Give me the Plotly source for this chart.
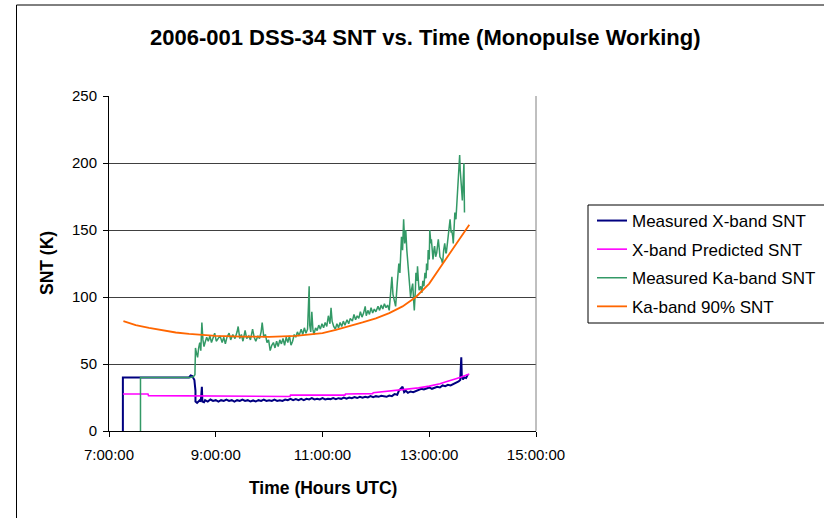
import plotly.graph_objects as go

# ---------------- data (time in decimal hours UTC) ----------------
xband_meas_t = [7.26, 7.26, 8.50, 8.53, 8.56, 8.58, 8.60, 8.62, 8.62, 8.65, 8.68, 8.70, 8.72, 8.74, 8.75, 8.78,
                8.80, 8.85, 8.90, 8.95, 9.00, 9.05, 9.10, 9.15, 9.20, 9.25, 9.30, 9.35, 9.40, 9.45, 9.50, 9.55,
                9.60, 9.65, 9.70, 9.75, 9.80, 9.85, 9.90, 9.95, 10.00, 10.05, 10.10, 10.15, 10.20, 10.25, 10.30,
                10.35, 10.40, 10.45, 10.50, 10.55, 10.60, 10.65, 10.70, 10.75, 10.80, 10.85, 10.90, 10.95, 11.00,
                11.05, 11.10, 11.15, 11.20, 11.25, 11.30, 11.35, 11.40, 11.45, 11.50, 11.55, 11.60, 11.65, 11.70,
                11.75, 11.80, 11.85, 11.90, 11.95, 12.00, 12.05, 12.10, 12.15, 12.20, 12.25, 12.30, 12.35, 12.40,
                12.43, 12.46, 12.50, 12.53, 12.56, 12.60, 12.65, 12.70, 12.75, 12.80, 12.85, 12.90, 12.95, 13.00,
                13.05, 13.10, 13.15, 13.20, 13.25, 13.30, 13.35, 13.40, 13.45, 13.50, 13.55, 13.58, 13.60, 13.61,
                13.63, 13.66, 13.69, 13.72]
xband_meas_v = [0, 40, 40, 41.5, 41, 39.5, 38, 30, 22, 21, 22.5, 23, 22, 33, 22, 21.5,
                23, 22, 23.5, 22.5, 23, 22, 23, 22.5, 23.5, 22.5, 23, 22, 23, 22.5, 23.5, 22.5,
                23, 22, 22.8, 22, 23, 22.5, 23.5, 22.5, 23, 22.5, 23.5, 22.5, 23, 22.5, 23.5,
                23, 24, 23, 23.8, 23, 24, 23, 24, 23.5, 24.5, 23.5, 24, 23.5, 24.5,
                23.5, 24, 23.8, 24.5, 23.8, 24.5, 24, 25, 24.2, 25, 24.5, 25.3, 24.6, 25.5,
                24.8, 25.5, 25, 26, 25.2, 26, 25.5, 26.2, 25.6, 25.5, 26.5, 26, 27.5, 27,
                30, 31.5, 33, 29, 30, 28.5, 29.5, 29, 30, 30.5, 31.5, 31, 32, 32.5,
                31.5, 32.5, 33, 32.5, 34, 33.5, 34.5, 34, 35, 35.5, 37, 38, 55, 41,
                38.5, 40, 39.5, 42]

xband_pred_t = [7.26, 7.73, 7.74, 8.62, 8.64, 10.39, 10.40, 11.42, 11.43, 11.94, 11.95, 12.2, 12.4, 12.6,
                12.8, 13.0, 13.1, 13.2, 13.3, 13.4, 13.5, 13.6, 13.7, 13.75]
xband_pred_v = [27.6, 27.6, 26.4, 26.2, 25.8, 25.8, 26.8, 26.8, 27.6, 27.9, 28.6, 29.5, 30.5, 31.5,
                32.2, 33.5, 34.3, 35.2, 36.5, 37.5, 39, 40.3, 41.7, 42.5]

ka_meas_t = [7.59, 7.59, 8.52, 8.58, 8.61, 8.62, 8.64, 8.66, 8.68, 8.70, 8.72, 8.74, 8.76, 8.78, 8.80, 8.83,
             8.86, 8.89, 8.92, 8.95, 8.98, 9.01, 9.04, 9.08, 9.12, 9.15, 9.18, 9.21, 9.25, 9.28, 9.32, 9.36,
             9.40, 9.42, 9.45, 9.48, 9.51, 9.55, 9.58, 9.62, 9.65, 9.69, 9.72, 9.75, 9.79, 9.82, 9.85, 9.87,
             9.90, 9.93, 9.96, 9.99, 10.02, 10.05, 10.08, 10.11, 10.14, 10.17, 10.20, 10.23, 10.26, 10.29,
             10.32, 10.35, 10.38, 10.41, 10.44, 10.47, 10.50, 10.53, 10.56, 10.60, 10.63, 10.66, 10.69, 10.72,
             10.75, 10.76, 10.78, 10.80, 10.82, 10.84, 10.87, 10.90, 10.93, 10.96, 10.99, 11.02, 11.05, 11.08,
             11.11, 11.14, 11.16, 11.18, 11.21, 11.24, 11.27, 11.30, 11.33, 11.36, 11.39, 11.42, 11.46, 11.49,
             11.52, 11.56, 11.59, 11.62, 11.65, 11.68, 11.71, 11.74, 11.77, 11.80, 11.82, 11.85, 11.88, 11.91,
             11.94, 11.97, 12.00, 12.04, 12.07, 12.10, 12.13, 12.16, 12.19, 12.22, 12.25, 12.28, 12.30, 12.32,
             12.35, 12.37, 12.40, 12.43, 12.45, 12.48, 12.50, 12.52, 12.54, 12.56, 12.58, 12.60, 12.62, 12.65,
             12.67, 12.69, 12.71, 12.72, 12.74, 12.75, 12.77, 12.78, 12.80, 12.81, 12.84, 12.86, 12.88, 12.90,
             12.92, 12.94, 12.95, 12.97, 12.98, 13.00, 13.01, 13.03, 13.04, 13.06, 13.07, 13.09, 13.10, 13.12,
             13.14, 13.16, 13.17, 13.19, 13.20, 13.23, 13.25, 13.27, 13.29, 13.31, 13.32, 13.34, 13.35, 13.37,
             13.39, 13.41, 13.42, 13.44, 13.45, 13.47, 13.48, 13.50, 13.51, 13.53, 13.54, 13.56, 13.57, 13.58,
             13.59, 13.61, 13.62, 13.63, 13.65, 13.66]
ka_meas_v = [0, 40, 40, 40.5, 42, 62, 58, 55, 62, 66, 60, 81, 68, 63, 66, 70,
             67, 71, 66, 69, 73, 67, 69, 71, 66, 70, 65, 70, 73, 68, 72, 69,
             74, 78, 69, 72, 67, 75, 69, 71, 68, 76, 70, 67, 71, 69, 74, 81,
             70, 72, 66, 68, 60, 64, 66, 62, 67, 63, 68, 65, 69, 64,
             70, 66, 71, 64, 67, 72, 70, 74, 71, 76, 72, 77, 73, 76,
             108, 79, 74, 89, 76, 72, 77, 75, 79, 76, 80, 77, 81, 78,
             86, 80, 92, 82, 78, 76, 80, 77, 81, 78, 82, 79, 83, 80,
             84, 82, 87, 83, 86, 84, 89, 85, 88, 93, 86, 90, 87, 92,
             88, 91, 89, 93, 90, 94, 91, 95, 92, 94, 90, 105, 115, 102,
             97, 93, 110, 125, 118, 145, 135, 158, 140, 150, 135, 125, 113, 100,
             106, 110, 96, 90, 105, 118, 112, 123, 110, 105, 108, 103, 112, 108,
             118, 114, 125, 120, 135, 128, 150, 140, 143, 130, 128, 136, 138, 130,
             133, 140, 143, 135, 130, 128, 125, 135, 140, 133, 133, 140, 143, 150,
             158, 148, 150, 145, 140, 155, 163, 158, 165, 172, 180, 195, 206, 195,
             185, 178, 172, 185, 200, 163]

ka90_t = [7.27, 7.5, 7.75, 8.0, 8.25, 8.5, 8.75, 9.0, 9.5, 10.0, 10.5, 10.75, 11.0, 11.25, 11.5, 11.75,
          12.0, 12.25, 12.5, 12.75, 13.0, 13.17, 13.33, 13.5, 13.6, 13.75]
ka90_v = [82, 79, 77, 75, 73.5, 72.5, 71.5, 71, 70.5, 70.3, 71, 72, 73, 75.5, 78, 81,
          84, 88, 93, 100, 110, 120, 130, 140, 146, 154]

series_names = ["Measured X-band SNT", "X-band Predicted SNT", "Measured Ka-band SNT", "Ka-band 90% SNT"]
x_tickvals = [7, 9, 11, 13, 15]
x_ticktext = ["7:00:00", "9:00:00", "11:00:00", "13:00:00", "15:00:00"]
y_tickvals = [0, 50, 100, 150, 200, 250]

title_text = "2006-001 DSS-34 SNT vs. Time (Monopulse Working)"
x_title = "Time (Hours UTC)"
y_title = "SNT (K)"

# ---------------- figure ----------------
FONT = "Liberation Sans, Arial, sans-serif"
W, H = 824, 518
L, R, T, B = 109, 536, 96, 431  # plot area pixels
pw, ph = R - L, B - T


def px(x):
    return (x - L) / pw


def py(y):
    return (B - y) / ph


fig = go.Figure()
fig.add_trace(go.Scatter(x=xband_meas_t, y=xband_meas_v, mode="lines", name=series_names[0],
                         line=dict(color="#000080", width=2), legendgroup="a"))
fig.add_trace(go.Scatter(x=xband_pred_t, y=xband_pred_v, mode="lines", name=series_names[1],
                         line=dict(color="#FF00FF", width=1.6), legendgroup="b"))
fig.add_trace(go.Scatter(x=ka_meas_t, y=ka_meas_v, mode="lines", name=series_names[2],
                         line=dict(color="#339966", width=1.5), legendgroup="c"))
fig.add_trace(go.Scatter(x=ka90_t, y=ka90_v, mode="lines", name=series_names[3],
                         line=dict(color="#FF6600", width=1.8), legendgroup="d"))

fig.update_layout(
    width=W, height=H,
    margin=dict(l=L, r=W - R, t=T, b=H - B, autoexpand=False),
    paper_bgcolor="white", plot_bgcolor="white",
    font=dict(family=FONT, size=15, color="black"),
    showlegend=True,
    legend=dict(x=px(592), y=py(203), xanchor="left", yanchor="top",
                bgcolor="rgba(0,0,0,0)", borderwidth=0,
                font=dict(family=FONT, size=17, color="black"),
                traceorder="grouped", tracegroupgap=3.5, itemwidth=30),
    xaxis=dict(range=[7, 15], tickvals=x_tickvals, ticktext=x_ticktext,
               showgrid=False, zeroline=False, showline=True, linecolor="black", linewidth=1,
               ticks="outside", ticklen=5, tickcolor="black", ticklabelstandoff=5,
               tickfont=dict(family=FONT, size=15, color="black")),
    yaxis=dict(range=[0, 250], tickvals=y_tickvals,
               showgrid=True, gridcolor="#404040", gridwidth=1, zeroline=False,
               showline=True, linecolor="black", linewidth=1,
               ticks="outside", ticklen=5, tickcolor="black", ticklabelstandoff=3,
               tickfont=dict(family=FONT, size=15, color="black")),
    shapes=[
        # plot-area right border
        dict(type="line", xref="paper", yref="paper", x0=1, x1=1, y0=0, y1=1,
             line=dict(color="#808080", width=1)),
        # outer chart frame
        dict(type="rect", xref="paper", yref="paper", x0=px(16.5), x1=px(840), y0=py(5), y1=py(540),
             line=dict(color="black", width=1), layer="below"),
        # legend box
        dict(type="rect", xref="paper", yref="paper", x0=px(588), x1=px(840), y0=py(205), y1=py(323),
             line=dict(color="black", width=1)),
    ],
    annotations=[
        dict(text="<b>" + title_text + "</b>", xref="paper", yref="paper", x=px(425.5), y=py(38),
             showarrow=False, xanchor="center", yanchor="middle",
             font=dict(family=FONT, size=22, color="black")),
        dict(text="<b>" + x_title + "</b>", xref="paper", yref="paper", x=px(322.5), y=py(488),
             showarrow=False, xanchor="center", yanchor="middle",
             font=dict(family=FONT, size=17.5, color="black")),
        dict(text="<b>" + y_title + "</b>", xref="paper", yref="paper", x=px(47), y=py(263),
             showarrow=False, xanchor="center", yanchor="middle", textangle=-90,
             font=dict(family=FONT, size=17.5, color="black")),
    ],
)

fig.write_html("out.html", config={"displayModeBar": False},
               post_script="document.body.style.margin='0';document.body.style.overflow='hidden';")
